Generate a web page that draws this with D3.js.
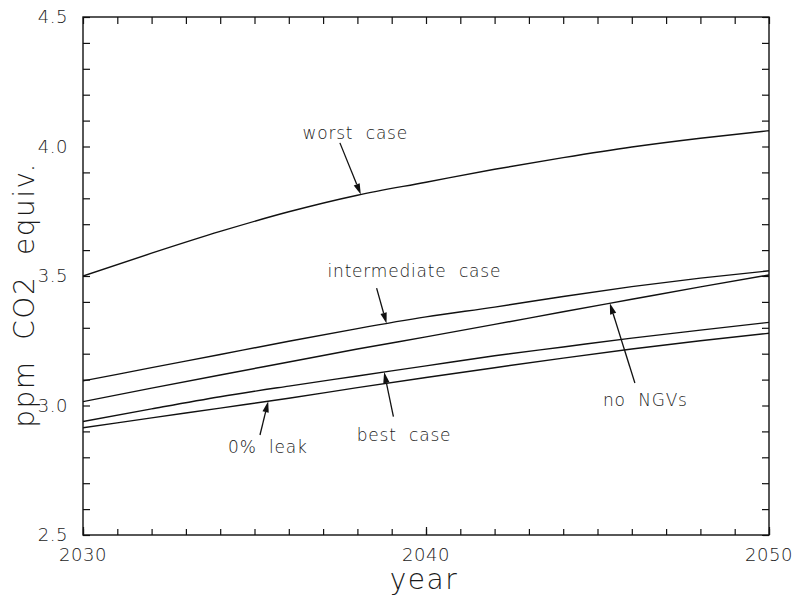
<!DOCTYPE html>
<html>
<head>
<meta charset="utf-8">
<script src="https://cdn.jsdelivr.net/npm/d3@7/dist/d3.min.js"></script>
<style>
  html, body { margin: 0; padding: 0; background: #fff; }
  svg { display: block; }
  text { font-family: "DejaVu Sans", sans-serif; font-weight: 200; fill: #1a1a1a; }
</style>
</head>
<body>
<svg id="chart" width="793" height="596"></svg>
<script>
// ---- data ----
const years = [2030, 2032, 2034, 2036, 2038, 2040, 2042, 2044, 2046, 2048, 2050];
const worstCase        = [3.500, 3.588, 3.672, 3.748, 3.812, 3.862, 3.912, 3.957, 3.998, 4.032, 4.061];
const intermediateCase = [3.095, 3.146, 3.197, 3.248, 3.297, 3.342, 3.380, 3.421, 3.459, 3.492, 3.520];
const noNGVs           = [3.015, 3.067, 3.118, 3.168, 3.218, 3.265, 3.313, 3.362, 3.410, 3.458, 3.504];
const bestCase         = [2.938, 2.987, 3.034, 3.075, 3.114, 3.153, 3.192, 3.226, 3.260, 3.291, 3.321];
const zeroLeak         = [2.914, 2.952, 2.990, 3.028, 3.069, 3.108, 3.146, 3.183, 3.218, 3.250, 3.279];
const seriesNames = ["worst case", "intermediate case", "no NGVs", "best case", "0% leak"];
const seriesValues = [worstCase, intermediateCase, noNGVs, bestCase, zeroLeak];
const xTickLabels = [2030, 2040, 2050];
const yTickLabels = [2.5, 3.0, 3.5, 4.0, 4.5];

// annotation placement (data coordinates): label start, arrow tail, arrow tip year on the series
const annotations = [
  { series: 0, text: "worst  case",        tx: 2036.40, ty: 4.029, ax: 2037.49, ay: 4.014, tipYear: 2038.10 },
  { series: 1, text: "intermediate  case", tx: 2037.13, ty: 3.496, ax: 2038.56, ay: 3.453, tipYear: 2038.85 },
  { series: 2, text: "no  NGVs",           tx: 2045.16, ty: 2.998, ax: 2046.09, ay: 3.087, tipYear: 2045.36 },
  { series: 3, text: "best  case",         tx: 2037.98, ty: 2.863, ax: 2039.05, ay: 2.957, tipYear: 2038.78 },
  { series: 4, text: "0%  leak",           tx: 2034.23, ty: 2.817, ax: 2035.16, ay: 2.886, tipYear: 2035.40 }
];

// ---- layout ----
const L = 83, R = 769, T = 17, B = 535;
const svg = d3.select("#chart");
const x = d3.scaleLinear().domain([2030, 2050]).range([L, R]);
const y = d3.scaleLinear().domain([2.5, 4.5]).range([B, T]);

const ink = "#111";

// ticks (inward) on all four sides
const yMinor = d3.range(2.5, 4.5001, 0.1);
const xMinor = d3.range(2030, 2050.001, 1);
const axisG = svg.append("g");

axisG.append("g").attr("transform", `translate(${L},0)`)
  .call(d3.axisLeft(y).tickValues(yMinor).tickSize(-7).tickFormat(""));
axisG.append("g").attr("transform", `translate(${R},0)`)
  .call(d3.axisRight(y).tickValues(yMinor).tickSize(-7).tickFormat(""));
axisG.append("g").attr("transform", `translate(0,${B})`)
  .call(d3.axisBottom(x).tickValues(xMinor).tickSize(-6).tickFormat(""));
axisG.append("g").attr("transform", `translate(0,${T})`)
  .call(d3.axisTop(x).tickValues(xMinor).tickSize(-7).tickFormat(""));
axisG.append("g").attr("transform", `translate(0,${B})`)
  .call(d3.axisBottom(x).tickValues(xTickLabels).tickSize(-8).tickFormat(""));
axisG.selectAll(".domain").remove();
axisG.selectAll("line").attr("stroke", ink).attr("stroke-width", 1.2);

// frame
svg.append("rect").attr("x", L).attr("y", T).attr("width", R - L).attr("height", B - T)
  .attr("fill", "none").attr("stroke", ink).attr("stroke-width", 1.4);

// tick labels
svg.append("g").selectAll("text").data(yTickLabels).join("text")
  .attr("x", L - 15).attr("y", d => y(d)).attr("dy", "0.36em")
  .attr("text-anchor", "end").attr("font-size", 18).attr("letter-spacing", 0.5)
  .text(d => d.toFixed(1));
svg.append("g").selectAll("text").data(xTickLabels).join("text")
  .attr("x", d => x(d)).attr("y", 561)
  .attr("text-anchor", "middle").attr("font-size", 18).attr("letter-spacing", 0.5)
  .text(d => d);

// axis titles
svg.append("text").attr("x", 424).attr("y", 589).attr("text-anchor", "middle")
  .attr("font-size", 28).attr("letter-spacing", 1.5).text("year");
svg.append("text").attr("transform", "translate(34,295) rotate(-90)")
  .attr("text-anchor", "middle").attr("font-size", 28).attr("letter-spacing", 1.5)
  .style("white-space", "pre").text("ppm  CO2  equiv.");

// series lines
svg.append("clipPath").attr("id", "clip").append("rect")
  .attr("x", L).attr("y", T).attr("width", R - L).attr("height", B - T);
const line = d3.line().x(d => x(d[0])).y(d => y(d[1])).curve(d3.curveMonotoneX);
svg.append("g").attr("clip-path", "url(#clip)").selectAll("path")
  .data(seriesValues).join("path")
  .attr("d", vals => line(years.map((yr, i) => [yr, vals[i]])))
  .attr("fill", "none").attr("stroke", ink).attr("stroke-width", 1.4);

// annotations
function valueAt(vals, yr) {
  const i = Math.min(years.length - 2, Math.max(0, d3.bisectRight(years, yr) - 1));
  const t = (yr - years[i]) / (years[i + 1] - years[i]);
  return vals[i] + t * (vals[i + 1] - vals[i]);
}
const annG = svg.append("g");
annotations.forEach(a => {
  const x0 = x(a.ax), y0 = y(a.ay);
  const x1 = x(a.tipYear), y1 = y(valueAt(seriesValues[a.series], a.tipYear));
  const ang = Math.atan2(y1 - y0, x1 - x0);
  const hl = 11, hw = 3.2;
  const bx = x1 - hl * Math.cos(ang), by = y1 - hl * Math.sin(ang);
  annG.append("line").attr("x1", x0).attr("y1", y0).attr("x2", bx).attr("y2", by)
    .attr("stroke", ink).attr("stroke-width", 1.3);
  const px = -Math.sin(ang) * hw, py = Math.cos(ang) * hw;
  annG.append("path")
    .attr("d", `M${x1},${y1}L${bx + px},${by + py}L${bx - px},${by - py}Z`)
    .attr("fill", ink);
  annG.append("text").attr("x", x(a.tx)).attr("y", y(a.ty))
    .attr("font-size", 17).attr("letter-spacing", 0.8)
    .style("white-space", "pre").text(a.text);
});
</script>
</body>
</html>
